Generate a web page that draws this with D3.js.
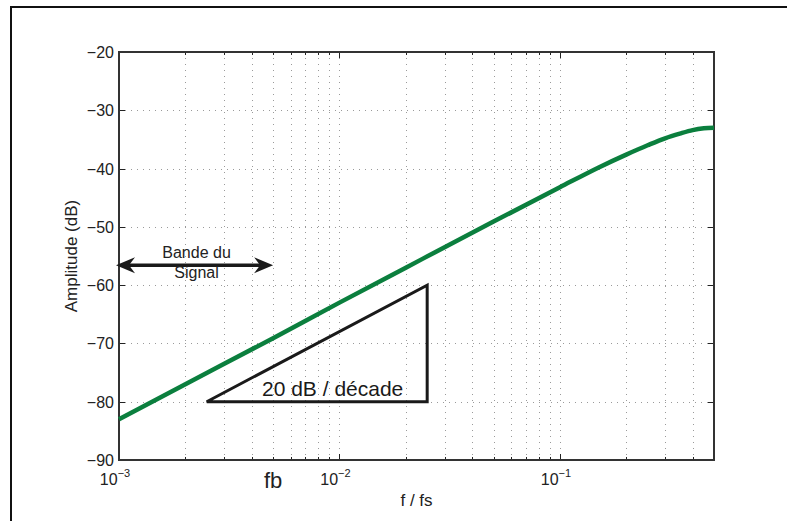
<!DOCTYPE html>
<html>
<head>
<meta charset="utf-8">
<script src="https://cdn.jsdelivr.net/npm/d3@7"></script>
<style>
  body { margin: 0; background: #fff; }
  svg { display: block; font-family: "Liberation Sans", Arial, Helvetica, sans-serif; }
</style>
</head>
<body>
<svg id="chart" width="787" height="521"></svg>
<script>
// Data
const freqs = [0.001, 0.002, 0.005, 0.01, 0.02, 0.05, 0.1, 0.15, 0.2, 0.25, 0.3, 0.35, 0.4, 0.45, 0.5];
const ampDb = [-83.0, -77.0, -69.1, -63.0, -57.0, -49.1, -43.2, -39.8, -37.6, -36.0, -34.8, -34.0, -33.4, -33.1, -33.0];
const xMajorTicks = [0.001, 0.01, 0.1];
const xTickExp = ["−3", "−2", "−1"];
const yTicks = [-90, -80, -70, -60, -50, -40, -30, -20];
const slopeTriangle = [[0.0025, -80], [0.025, -80], [0.025, -60]];
const bandRange = [0.001, 0.005];
const bandLevel = -56.6;
const fbFreq = 0.005;

// Layout
const margin = { left: 119, right: 714, top: 52, bottom: 460 };
const green = "#0b7f3e";

const svg = d3.select("#chart");

const x = d3.scaleLog().domain([0.001, 0.5]).range([margin.left, margin.right]);
const y = d3.scaleLinear().domain([-90, -20]).range([margin.bottom, margin.top]);

// outer frame (top + left only)
svg.append("path")
  .attr("d", "M11,521 L11,7 L787,7")
  .attr("fill", "none")
  .attr("stroke", "#111")
  .attr("stroke-width", 2);

// minor/major x positions for the log grid
const xAllTicks = [];
for (let e = -3; e <= -1; e++) {
  for (let m = 1; m <= 9; m++) {
    const v = m * Math.pow(10, e);
    if (v <= 0.5) xAllTicks.push(v);
  }
}

// grid
const grid = svg.append("g")
  .attr("stroke", "#9a9a9a")
  .attr("stroke-width", 1)
  .attr("stroke-dasharray", "1,5");

grid.selectAll("line.vg")
  .data(xAllTicks.filter(d => d > 0.001))
  .join("line")
    .attr("x1", d => Math.round(x(d)) + 0.5)
    .attr("x2", d => Math.round(x(d)) + 0.5)
    .attr("y1", margin.top)
    .attr("y2", margin.bottom);

grid.selectAll("line.hg")
  .data(yTicks.filter(d => d > -90 && d < -20))
  .join("line")
    .attr("x1", margin.left)
    .attr("x2", margin.right)
    .attr("y1", d => Math.round(y(d)) + 0.5)
    .attr("y2", d => Math.round(y(d)) + 0.5);

// tick marks (inside, both sides)
const ticks = svg.append("g").attr("stroke", "#222").attr("stroke-width", 1);
xAllTicks.forEach(v => {
  const len = xMajorTicks.includes(v) ? 6 : 3;
  const px = Math.round(x(v)) + 0.5;
  ticks.append("line").attr("x1", px).attr("x2", px).attr("y1", margin.bottom).attr("y2", margin.bottom - len);
  ticks.append("line").attr("x1", px).attr("x2", px).attr("y1", margin.top).attr("y2", margin.top + len);
});
yTicks.forEach(v => {
  const py = Math.round(y(v)) + 0.5;
  ticks.append("line").attr("x1", margin.left).attr("x2", margin.left + 6).attr("y1", py).attr("y2", py);
  ticks.append("line").attr("x1", margin.right).attr("x2", margin.right - 6).attr("y1", py).attr("y2", py);
});

// axes box
svg.append("rect")
  .attr("x", margin.left)
  .attr("y", margin.top)
  .attr("width", margin.right - margin.left)
  .attr("height", margin.bottom - margin.top)
  .attr("fill", "none")
  .attr("stroke", "#333")
  .attr("stroke-width", 2);

// y tick labels
svg.append("g")
  .selectAll("text")
  .data(yTicks)
  .join("text")
    .attr("x", margin.left - 5)
    .attr("y", d => y(d) + 6)
    .attr("text-anchor", "end")
    .attr("font-size", 16)
    .attr("fill", "#222")
    .text(d => String(d).replace("-", "−"));

// x tick labels 10^n
const xl = svg.append("g")
  .selectAll("text")
  .data(xMajorTicks)
  .join("text")
    .attr("x", d => x(d) - 4)
    .attr("y", margin.bottom + 25)
    .attr("text-anchor", "middle")
    .attr("font-size", 16)
    .attr("fill", "#222");
xl.append("tspan").text("10");
xl.append("tspan")
  .attr("dy", -8)
  .attr("font-size", 11)
  .text((d, i) => xTickExp[i]);

// axis titles
svg.append("text")
  .attr("x", (margin.left + margin.right) / 2)
  .attr("y", 506)
  .attr("text-anchor", "middle")
  .attr("font-size", 17)
  .attr("fill", "#222")
  .text("f / fs");

svg.append("text")
  .attr("transform", `translate(77,${(margin.top + margin.bottom) / 2}) rotate(-90)`)
  .attr("text-anchor", "middle")
  .attr("font-size", 17)
  .attr("fill", "#222")
  .text("Amplitude (dB)");

// fb label
svg.append("text")
  .attr("x", x(fbFreq))
  .attr("y", 488)
  .attr("text-anchor", "middle")
  .attr("font-size", 22)
  .attr("fill", "#222")
  .text("fb");

// slope triangle
svg.append("path")
  .attr("d", d3.line().x(d => x(d[0])).y(d => y(d[1])).curve(d3.curveLinearClosed)(slopeTriangle))
  .attr("fill", "none")
  .attr("stroke", "#1a1a1a")
  .attr("stroke-width", 3)
  .attr("stroke-linejoin", "miter");

svg.append("text")
  .attr("x", 262)
  .attr("y", 396)
  .attr("font-size", 21)
  .attr("fill", "#1a1a1a")
  .text("20 dB / décade");

// curve
const pts = freqs.map((f, i) => [f, ampDb[i]]);
svg.append("path")
  .attr("d", d3.line().x(d => x(d[0])).y(d => y(d[1])).curve(d3.curveMonotoneX)(pts))
  .attr("fill", "none")
  .attr("stroke", green)
  .attr("stroke-width", 4.5);

// signal band double arrow
const ay = y(bandLevel);
const ax0 = x(bandRange[0]) - 3;
const ax1 = x(bandRange[1]);
svg.append("line")
  .attr("x1", ax0 + 8).attr("x2", ax1 - 8)
  .attr("y1", ay).attr("y2", ay)
  .attr("stroke", "#1a1a1a")
  .attr("stroke-width", 3.5);
svg.append("path")
  .attr("d", `M${ax0},${ay} L${ax0 + 19},${ay - 8} L${ax0 + 13},${ay} L${ax0 + 19},${ay + 8} Z`)
  .attr("fill", "#1a1a1a");
svg.append("path")
  .attr("d", `M${ax1},${ay} L${ax1 - 19},${ay - 8} L${ax1 - 13},${ay} L${ax1 - 19},${ay + 8} Z`)
  .attr("fill", "#1a1a1a");

const bx = (ax0 + ax1) / 2 + 2;
svg.append("text")
  .attr("x", bx).attr("y", 258)
  .attr("text-anchor", "middle")
  .attr("font-size", 16)
  .attr("fill", "#222")
  .text("Bande du");
svg.append("text")
  .attr("x", bx).attr("y", 278)
  .attr("text-anchor", "middle")
  .attr("font-size", 16)
  .attr("fill", "#222")
  .text("Signal");
</script>
</body>
</html>
